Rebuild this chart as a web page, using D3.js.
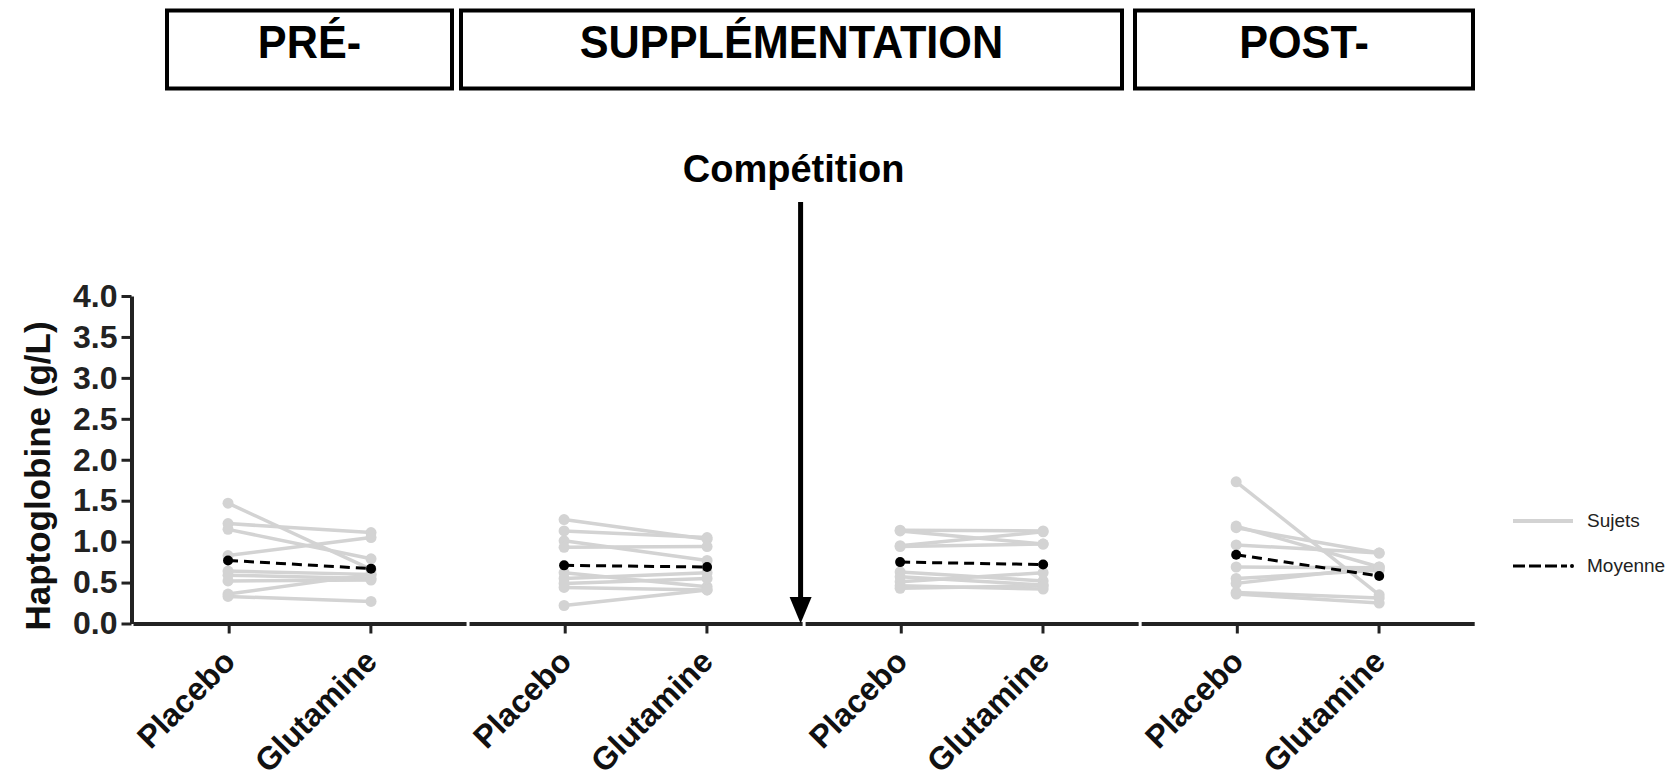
<!DOCTYPE html>
<html>
<head>
<meta charset="utf-8">
<script src="https://cdn.jsdelivr.net/npm/d3@7"></script>
<style>
  body { margin: 0; background: #fff; }
  text { font-family: "Liberation Sans", Arial, Helvetica, sans-serif; }
</style>
</head>
<body>
<script>
// phases shown in the boxes on top
var phases = ["PRÉ-", "SUPPLÉMENTATION", "POST-"];
// conditions inside each time point
var conditions = ["Placebo", "Glutamine"];
var yTicks = [0, 0.5, 1, 1.5, 2, 2.5, 3, 3.5, 4];

// individual subjects (g/L), one array per time point and condition
var prePlacebo   = [1.47, 1.22, 1.15, 0.83, 0.64, 0.59, 0.52, 0.36, 0.33];
var preGlutamine = [0.66, 1.11, 0.79, 1.05, 0.60, 0.55, 0.53, 0.60, 0.27];
var suppPlacebo   = [1.27, 1.13, 1.01, 0.93, 0.62, 0.55, 0.49, 0.44, 0.22];
var suppGlutamine = [1.03, 1.05, 0.77, 0.94, 0.45, 0.62, 0.55, 0.41, 0.41];
var compPlacebo   = [1.14, 1.13, 0.95, 0.94, 0.63, 0.57, 0.51, 0.46, 0.43];
var compGlutamine = [1.13, 0.97, 1.12, 0.97, 0.52, 0.47, 0.62, 0.42, 0.46];
var postPlacebo   = [1.73, 1.19, 1.17, 0.96, 0.69, 0.55, 0.49, 0.38, 0.36];
var postGlutamine = [0.35, 0.69, 0.86, 0.86, 0.68, 0.65, 0.69, 0.31, 0.25];

// group means
var meanPlacebo   = [0.77, 0.71, 0.75, 0.84];
var meanGlutamine = [0.67, 0.69, 0.72, 0.58];

var subjects = [
  [prePlacebo, preGlutamine],
  [suppPlacebo, suppGlutamine],
  [compPlacebo, compGlutamine],
  [postPlacebo, postGlutamine]
];

var grey = "#d3d3d3", ink = "#222";
var groupStep = 2.35, pad = 0.675;

// position of a condition i inside time point g
function pos(g, i) { return g * groupStep + i; }

var svg = d3.select("body").append("svg")
    .attr("width", 1679)
    .attr("height", 782);

var x = d3.scaleLinear()
    .domain([-pad, pos(3, 1) + pad])
    .range([131.5, 1475.7]);

var y = d3.scaleLinear()
    .domain([0, 4])
    .range([623.5, 296]);

// phase boxes on top
var boxSpans = [[167, 452], [461, 1122], [1135, 1473]];
var box = svg.selectAll(".phase")
    .data(phases)
  .enter().append("g")
    .attr("class", "phase");

box.append("rect")
    .attr("x", function(d, i) { return boxSpans[i][0]; })
    .attr("y", 10.5)
    .attr("width", function(d, i) { return boxSpans[i][1] - boxSpans[i][0]; })
    .attr("height", 78)
    .attr("fill", "none")
    .attr("stroke", "#000")
    .attr("stroke-width", 4);

box.append("text")
    .attr("transform", function(d, i) {
      var cx = (boxSpans[i][0] + boxSpans[i][1]) / 2;
      return "translate(" + cx + ",58) scale(0.92,1)";
    })
    .attr("text-anchor", "middle")
    .style("font-size", "47px")
    .style("font-weight", "bold")
    .text(function(d) { return d; });

// y axis
var yAxis = svg.append("g")
    .attr("transform", "translate(" + x.range()[0] + ",0)")
    .call(d3.axisLeft(y)
      .tickValues(yTicks)
      .tickFormat(d3.format(".1f"))
      .tickSize(10)
      .tickSizeOuter(0)
      .tickPadding(4));

yAxis.select(".domain").attr("stroke", ink).attr("stroke-width", 4);
yAxis.selectAll(".tick line").attr("stroke", ink).attr("stroke-width", 3);
yAxis.selectAll(".tick text")
    .attr("fill", ink)
    .style("font-size", "32px")
    .style("font-weight", "bold")
    .style("font-family", "'Liberation Sans', Arial, sans-serif");

svg.append("text")
    .attr("transform", "translate(50,476) rotate(-90)")
    .attr("text-anchor", "middle")
    .attr("fill", "#111")
    .style("font-size", "35px")
    .style("font-weight", "bold")
    .text("Haptoglobine (g/L)");

// x axis, one segment per time point
d3.range(4).forEach(function(g) {
  var seg = d3.scaleLinear()
      .domain([pos(g, 0) - pad, pos(g, 1) + pad])
      .range([x(pos(g, 0) - pad) + 1.5, x(pos(g, 1) + pad) - 1.5]);

  var ax = svg.append("g")
      .attr("transform", "translate(0," + y(0) + ")")
      .call(d3.axisBottom(seg)
        .tickValues([pos(g, 0), pos(g, 1)])
        .tickFormat(function(d, i) { return conditions[i]; })
        .tickSize(10)
        .tickSizeOuter(0));

  ax.select(".domain").attr("stroke", ink).attr("stroke-width", 4);
  ax.selectAll(".tick line").attr("stroke", ink).attr("stroke-width", 3);
  ax.selectAll(".tick text")
      .attr("x", 0).attr("y", 0).attr("dy", 0)
      .attr("transform", "translate(8,40) rotate(-45)")
      .attr("text-anchor", "end")
      .attr("fill", "#111")
      .style("font-size", "32px")
      .style("font-weight", "bold")
      .style("font-family", "'Liberation Sans', Arial, sans-serif");
});

// subject lines
var subj = [];
subjects.forEach(function(pair, g) {
  pair[0].forEach(function(v, k) {
    subj.push({g: g, a: v, b: pair[1][k]});
  });
});

svg.selectAll(".subject")
    .data(subj)
  .enter().append("line")
    .attr("class", "subject")
    .attr("x1", function(d) { return x(pos(d.g, 0)); })
    .attr("x2", function(d) { return x(pos(d.g, 1)); })
    .attr("y1", function(d) { return y(d.a); })
    .attr("y2", function(d) { return y(d.b); })
    .attr("stroke", grey)
    .attr("stroke-width", 3.5);

var subjDots = [];
subj.forEach(function(d) {
  subjDots.push({p: pos(d.g, 0), v: d.a});
  subjDots.push({p: pos(d.g, 1), v: d.b});
});

svg.selectAll(".sdot")
    .data(subjDots)
  .enter().append("circle")
    .attr("class", "sdot")
    .attr("cx", function(d) { return x(d.p); })
    .attr("cy", function(d) { return y(d.v); })
    .attr("r", 5.5)
    .attr("fill", grey);

// means
var means = meanPlacebo.map(function(v, g) { return {g: g, a: v, b: meanGlutamine[g]}; });

svg.selectAll(".mean")
    .data(means)
  .enter().append("line")
    .attr("class", "mean")
    .attr("x1", function(d) { return x(pos(d.g, 0)); })
    .attr("x2", function(d) { return x(pos(d.g, 1)); })
    .attr("y1", function(d) { return y(d.a); })
    .attr("y2", function(d) { return y(d.b); })
    .attr("stroke", "#000")
    .attr("stroke-width", 3)
    .attr("stroke-dasharray", "10,6");

var meanDots = [];
means.forEach(function(d) {
  meanDots.push({p: pos(d.g, 0), v: d.a});
  meanDots.push({p: pos(d.g, 1), v: d.b});
});

svg.selectAll(".mdot")
    .data(meanDots)
  .enter().append("circle")
    .attr("class", "mdot")
    .attr("cx", function(d) { return x(d.p); })
    .attr("cy", function(d) { return y(d.v); })
    .attr("r", 5)
    .attr("fill", "#000");

// competition arrow between the 2nd and 3rd time point
var ax0 = x((pos(1, 1) + pos(2, 0)) / 2) - 3;
svg.append("line")
    .attr("x1", ax0).attr("x2", ax0)
    .attr("y1", 202).attr("y2", 600)
    .attr("stroke", "#000")
    .attr("stroke-width", 5);

svg.append("path")
    .attr("d", "M" + (ax0 - 11) + ",597L" + (ax0 + 11) + ",597L" + ax0 + "," + y(0) + "Z")
    .attr("fill", "#000");

svg.append("text")
    .attr("x", ax0 - 7)
    .attr("y", 182)
    .attr("text-anchor", "middle")
    .style("font-size", "38px")
    .style("font-weight", "bold")
    .text("Compétition");

// legend
var legend = svg.append("g").attr("transform", "translate(1513,0)");

legend.append("line")
    .attr("x1", 0).attr("x2", 60)
    .attr("y1", 521).attr("y2", 521)
    .attr("stroke", grey)
    .attr("stroke-width", 4);

legend.append("line")
    .attr("x1", 0).attr("x2", 54)
    .attr("y1", 566).attr("y2", 566)
    .attr("stroke", "#000")
    .attr("stroke-width", 3)
    .attr("stroke-dasharray", "12,4");

legend.append("circle")
    .attr("cx", 59).attr("cy", 566).attr("r", 2)
    .attr("fill", "#000");

legend.selectAll(".ltext")
    .data(["Sujets", "Moyenne"])
  .enter().append("text")
    .attr("class", "ltext")
    .attr("x", 74)
    .attr("y", function(d, i) { return 527 + i * 45; })
    .attr("fill", "#222")
    .style("font-size", "19px")
    .text(function(d) { return d; });
</script>
</body>
</html>
